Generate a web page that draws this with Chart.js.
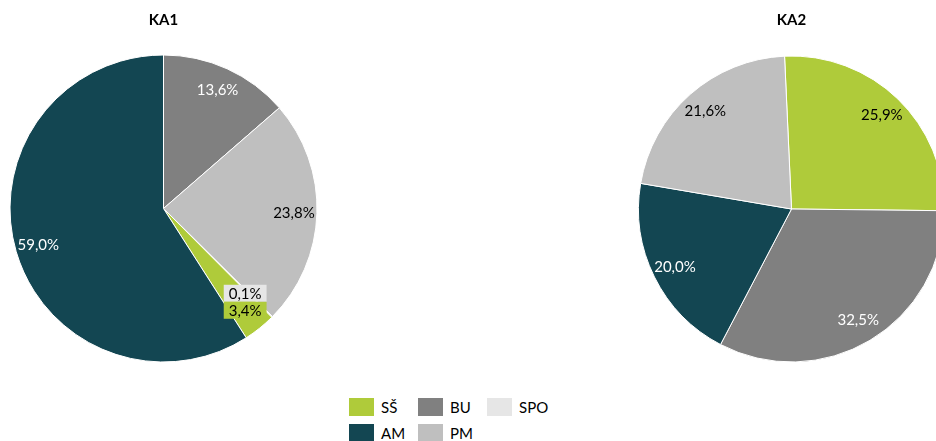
<!DOCTYPE html>
<html>
<head>
<meta charset="utf-8">
<script src="https://cdn.jsdelivr.net/npm/chart.js@4/dist/chart.umd.min.js"></script>
<style>
  html, body { margin: 0; padding: 0; background: #fff; }
  body { width: 936px; height: 441px; overflow: hidden; position: relative; font-family: Lato, sans-serif; }
  .pie { position: absolute; top: 0; width: 327px; }
  #legend { position: absolute; left: 349px; top: 398px; display: grid; grid-template-columns: 69px 69px 69px; row-gap: 8px; }
  .item { display: flex; align-items: center; height: 18px; font-size: 15px; color: #000; }
  .box { width: 25px; height: 18px; margin-right: 7px; }
</style>
</head>
<body>
<div class="pie" style="left:0;height:378px"><canvas id="ka1"></canvas></div>
<div class="pie" style="left:628px;height:379px"><canvas id="ka2"></canvas></div>
<div id="legend"></div>
<script>
const LEGEND_LABELS = ['SŠ', 'BU', 'SPO', 'AM', 'PM'];
const LEGEND_COLORS = ['#AFCB3A', '#808080', '#E6E6E6', '#134652', '#BFBFBF'];

const KA1_LABELS = ['BU', 'PM', 'SPO', 'SŠ', 'AM'];
const KA1_VALUES = [13.6, 23.8, 0.1, 3.4, 59.0];

const KA2_LABELS = ['SŠ', 'BU', 'AM', 'PM'];
const KA2_VALUES = [25.9, 32.5, 20.0, 21.6];

const DARK = ['BU', 'AM'];

function colorOf(label) {
  return LEGEND_COLORS[LEGEND_LABELS.indexOf(label)];
}

function fmt(v) {
  return v.toFixed(1).replace('.', ',') + '%';
}

// percent labels inside the slices, small ones get a filled box
const sliceLabels = {
  id: 'sliceLabels',
  afterDatasetsDraw(chart) {
    const ctx = chart.ctx;
    const meta = chart.getDatasetMeta(0);
    const labels = chart.data.labels;
    const values = chart.data.datasets[0].data;
    ctx.save();
    ctx.font = '15px Lato';
    ctx.textBaseline = 'middle';
    ctx.textAlign = 'center';
    const boxes = [];
    meta.data.forEach((arc, i) => {
      const p = arc.getProps(['x', 'y', 'startAngle', 'endAngle', 'outerRadius'], true);
      const mid = (p.startAngle + p.endAngle) / 2;
      const r = p.outerRadius * 0.85;
      const x = p.x + Math.cos(mid) * r;
      const y = p.y + Math.sin(mid) * r;
      const text = fmt(values[i]);
      if (values[i] < 5) {
        const w = ctx.measureText(text).width + 10;
        boxes.push({ text, x: x - w / 2, y: y - 8.5, w, h: 17, color: colorOf(labels[i]) });
      } else {
        ctx.fillStyle = DARK.includes(labels[i]) ? '#fff' : '#000';
        ctx.fillText(text, x, y);
      }
    });
    // push overlapping small labels above the next one
    for (let i = boxes.length - 2; i >= 0; i--) {
      const a = boxes[i], b = boxes[i + 1];
      if (a.y + a.h > b.y && a.y < b.y + b.h && a.x < b.x + b.w && a.x + a.w > b.x) {
        a.y = b.y - a.h;
        a.x = b.x;
      }
    }
    boxes.forEach(b => {
      ctx.fillStyle = b.color;
      ctx.fillRect(b.x, b.y, b.w, b.h);
      ctx.fillStyle = '#000';
      ctx.fillText(b.text, b.x + b.w / 2, b.y + b.h / 2 + 0.5);
    });
    ctx.restore();
  }
};

function makePie(id, title, labels, values, rotation, radius) {
  new Chart(document.getElementById(id), {
    type: 'pie',
    data: {
      labels: labels,
      datasets: [{
        data: values,
        backgroundColor: labels.map(colorOf),
        borderColor: '#fff',
        borderWidth: 1
      }]
    },
    options: {
      responsive: true,
      maintainAspectRatio: false,
      animation: false,
      events: [],
      rotation: rotation,
      radius: radius,
      layout: { padding: 0 },
      plugins: {
        legend: { display: false },
        tooltip: { enabled: false },
        title: {
          display: true,
          text: title,
          color: '#000',
          font: { family: 'Lato', size: 15, weight: 'bold', lineHeight: 1.2 },
          padding: { top: 11, bottom: 10 }
        }
      }
    },
    plugins: [sliceLabels]
  });
}

makePie('ka1', 'KA1', KA1_LABELS, KA1_VALUES, 0, 153.5);
makePie('ka2', 'KA2', KA2_LABELS, KA2_VALUES, -2.6, 153);

const legend = document.getElementById('legend');
LEGEND_LABELS.forEach((label, i) => {
  const item = document.createElement('div');
  item.className = 'item';
  item.innerHTML = '<span class="box" style="background:' + LEGEND_COLORS[i] + '"></span>' + label;
  legend.appendChild(item);
});
</script>
</body>
</html>
